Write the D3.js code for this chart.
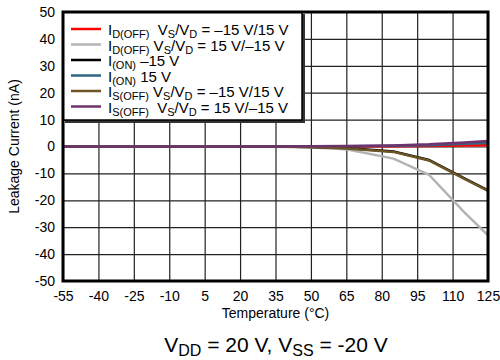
<!DOCTYPE html>
<html lang="en">
<head>
  <meta charset="UTF-8">
  <title>Leakage Current vs Temperature</title>
  <script src="https://d3js.org/d3.v7.min.js"></script>
  <style>
    body { margin: 0; background: #fff; }
    svg text { font-family: "Liberation Sans", Arial, sans-serif; fill: #000; }
  </style>
</head>
<body>
  <script>
    // data
    var temps = [-55, -40, -25, -10, 5, 20, 35, 50, 65, 85, 100, 115, 125];
    var idOffNeg = [0, 0, 0, 0, 0, 0, 0, 0, 0, 0.1, 0.2, 0.4, 0.5];
    var idOffPos = [0, 0, 0, 0, 0, 0, -0.1, -0.4, -1.0, -4.5, -10.5, -24.5, -33];
    var ionNeg = [0, 0, 0, 0, 0, 0, 0, -0.2, -0.6, -1.9, -5.0, -11.8, -16.3];
    var ionPos = [0, 0, 0, 0, 0, 0, 0, 0, 0.1, 0.3, 0.5, 1.0, 1.3];
    var isOffNeg = [0, 0, 0, 0, 0, 0, 0, -0.2, -0.7, -2.0, -5.2, -12.0, -16.5];
    var isOffPos = [0, 0, 0, 0, 0, 0, 0, 0.1, 0.2, 0.4, 0.8, 1.5, 2.0];

    var xTicks = [-55, -40, -25, -10, 5, 20, 35, 50, 65, 80, 95, 110, 125];
    var yTicks = [-50, -40, -30, -20, -10, 0, 10, 20, 30, 40, 50];

    var series = [
      { vals: idOffNeg, color: '#ff0000', main: 'I', sub: 'D(OFF)', rest: [['  V', ''], ['S', 's'], ['/V', ''], ['D', 's'], [' = \u201315 V/15 V', '']] },
      { vals: idOffPos, color: '#b4b4b4', main: 'I', sub: 'D(OFF)', rest: [[' V', ''], ['S', 's'], ['/V', ''], ['D', 's'], [' = 15 V/\u201315 V', '']] },
      { vals: ionNeg, color: '#000000', main: 'I', sub: '(ON)', rest: [[' \u201315 V', '']] },
      { vals: ionPos, color: '#2e6784', main: 'I', sub: '(ON)', rest: [[' 15 V', '']] },
      { vals: isOffNeg, color: '#6e5527', main: 'I', sub: 'S(OFF)', rest: [[' V', ''], ['S', 's'], ['/V', ''], ['D', 's'], [' = \u201315 V/15 V', '']] },
      { vals: isOffPos, color: '#6e336e', main: 'I', sub: 'S(OFF)', rest: [['  V', ''], ['S', 's'], ['/V', ''], ['D', 's'], [' = 15 V/\u201315 V', '']] }
    ];

    var width = 500, height = 360;
    var margin = { top: 12, left: 63, right: 12, bottom: 79 };
    var w = width - margin.left - margin.right;
    var h = height - margin.top - margin.bottom;

    var svg = d3.select('body').append('svg')
      .attr('width', width)
      .attr('height', height);

    var g = svg.append('g')
      .attr('transform', 'translate(' + margin.left + ',' + margin.top + ')');

    var x = d3.scaleLinear().domain([-55, 125]).range([0, w]);
    var y = d3.scaleLinear().domain([-50, 50]).range([h, 0]);

    // grid
    g.append('g')
      .attr('class', 'grid')
      .attr('transform', 'translate(0,' + h + ')')
      .call(d3.axisBottom(x).tickValues(xTicks).tickSize(-h).tickFormat(''))
      .call(function (s) { s.select('.domain').remove(); });
    g.append('g')
      .attr('class', 'grid')
      .call(d3.axisLeft(y).tickValues(yTicks).tickSize(-w).tickFormat(''))
      .call(function (s) { s.select('.domain').remove(); });
    g.selectAll('.grid line').attr('stroke', '#222').attr('stroke-width', 1.2);

    // tick labels
    var xa = g.append('g')
      .attr('transform', 'translate(0,' + h + ')')
      .call(d3.axisBottom(x).tickValues(xTicks).tickSize(0).tickPadding(10).tickFormat(function (d) { return String(d); }));
    var ya = g.append('g')
      .call(d3.axisLeft(y).tickValues(yTicks).tickSize(0).tickPadding(8).tickFormat(function (d) { return String(d); }));
    [xa, ya].forEach(function (a) {
      a.select('.domain').remove();
      a.selectAll('text').attr('font-size', 14).attr('font-family', '"Liberation Sans", Arial, sans-serif').attr('fill', '#000');
    });

    // lines
    var line = d3.line()
      .x(function (d) { return x(d[0]); })
      .y(function (d) { return y(d[1]); });

    svg.append('clipPath').attr('id', 'clip')
      .append('rect').attr('width', w).attr('height', h);

    g.append('g').attr('clip-path', 'url(#clip)')
      .selectAll('path')
      .data(series)
      .enter()
      .append('path')
      .attr('fill', 'none')
      .attr('stroke', function (d) { return d.color; })
      .attr('stroke-width', 2.5)
      .attr('d', function (d) {
        return line(temps.map(function (t, i) { return [t, d.vals[i]]; }));
      });

    // legend
    var lg = g.append('g');
    lg.append('rect')
      .attr('x', 2).attr('y', 2).attr('width', 240).attr('height', 109)
      .attr('fill', '#333');
    lg.append('rect')
      .attr('x', 0).attr('y', 0).attr('width', 239).attr('height', 108)
      .attr('fill', '#fff').attr('stroke', '#000').attr('stroke-width', 1.5);

    var rows = lg.selectAll('g.row')
      .data(series)
      .enter()
      .append('g')
      .attr('class', 'row')
      .attr('transform', function (d, i) { return 'translate(0,' + (23 + i * 15.5) + ')'; });
    rows.append('line')
      .attr('x1', 8).attr('x2', 38).attr('y1', -6).attr('y2', -6)
      .attr('stroke', function (d) { return d.color; })
      .attr('stroke-width', 2.5);
    rows.each(function (d) {
      var t = d3.select(this).append('text')
        .attr('x', 45).attr('y', 0)
        .attr('font-size', 15)
        .attr('xml:space', 'preserve');
      t.append('tspan').text(d.main);
      t.append('tspan').attr('font-size', 11).attr('dy', 3).text(d.sub);
      var shifted = true;
      d.rest.forEach(function (p) {
        var ts = t.append('tspan').text(p[0]);
        if (p[1] === 's') {
          ts.attr('font-size', 11).attr('dy', shifted ? 0 : 3);
          shifted = true;
        } else {
          ts.attr('dy', shifted ? -3 : 0);
          shifted = false;
        }
      });
    });

    // frame
    g.append('rect')
      .attr('width', w).attr('height', h)
      .attr('fill', 'none').attr('stroke', '#000').attr('stroke-width', 3);

    // titles
    svg.append('text')
      .attr('x', margin.left + w / 2).attr('y', 318)
      .attr('text-anchor', 'middle').attr('font-size', 14)
      .text('Temperature (\u00B0C)');

    svg.append('text')
      .attr('transform', 'translate(19,' + (margin.top + h / 2) + ') rotate(-90)')
      .attr('text-anchor', 'middle').attr('font-size', 14)
      .text('Leakage Current (nA)');

    var foot = svg.append('text')
      .attr('x', 276).attr('y', 352)
      .attr('text-anchor', 'middle').attr('font-size', 21)
      .attr('xml:space', 'preserve');
    foot.append('tspan').text('V');
    foot.append('tspan').attr('font-size', 16).attr('dy', 4).text('DD');
    foot.append('tspan').attr('dy', -4).text(' = 20 V, V');
    foot.append('tspan').attr('font-size', 16).attr('dy', 4).text('SS');
    foot.append('tspan').attr('dy', -4).text(' = -20 V');
  </script>
</body>
</html>
